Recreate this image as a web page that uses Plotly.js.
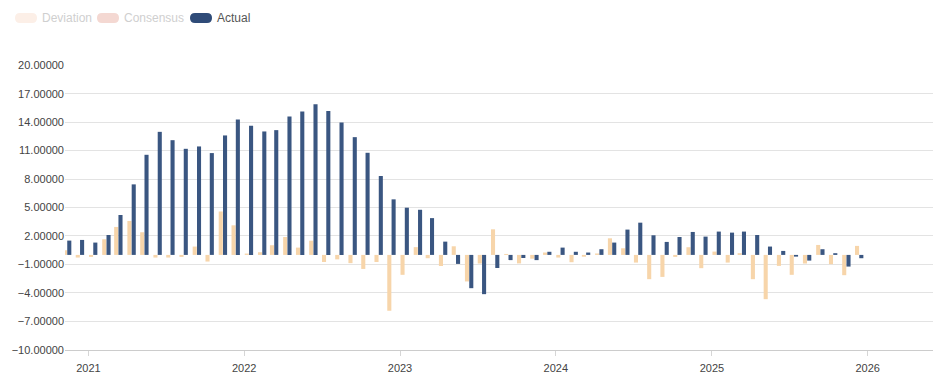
<!DOCTYPE html>
<html>
<head>
<meta charset="utf-8">
<script src="https://cdn.plot.ly/plotly-3.0.1.min.js"></script>
<style>
  html, body { margin: 0; padding: 0; background: #fff; }
  #chart { width: 940px; height: 382px; }
</style>
</head>
<body>
<div id="chart"></div>
<script>
const dates = [
  '2020-11-12','2020-12-12',
  '2021-01-12','2021-02-12','2021-03-12','2021-04-12','2021-05-12','2021-06-12',
  '2021-07-12','2021-08-12','2021-09-12','2021-10-12','2021-11-12','2021-12-12',
  '2022-01-12','2022-02-12','2022-03-12','2022-04-12','2022-05-12','2022-06-12',
  '2022-07-12','2022-08-12','2022-09-12','2022-10-12','2022-11-12','2022-12-12',
  '2023-01-12','2023-02-12','2023-03-12','2023-04-12','2023-05-12','2023-06-12',
  '2023-07-12','2023-08-12','2023-09-12','2023-10-12','2023-11-12','2023-12-12',
  '2024-01-12','2024-02-12','2024-03-12','2024-04-12','2024-05-12','2024-06-12',
  '2024-07-12','2024-08-12','2024-09-12','2024-10-12','2024-11-12','2024-12-12',
  '2025-01-12','2025-02-12','2025-03-12','2025-04-12','2025-05-12','2025-06-12',
  '2025-07-12','2025-08-12','2025-09-12','2025-10-12','2025-11-12','2025-12-12'
];

const actual = [
  1.51, 1.58,
  1.30, 2.10, 4.21, 7.44, 10.56, 12.98, 12.10, 11.19, 11.44, 10.74, 12.60, 14.28,
  13.61, 13.02, 13.16, 14.60, 15.12, 15.89, 15.19, 13.96, 12.42, 10.77, 8.32, 5.86,
  4.98, 4.76, 3.88, 1.40, -0.95, -3.51, -4.14, -1.38, -0.55, -0.33, -0.55, 0.33,
  0.77, 0.33, 0.25, 0.60, 1.30, 2.67, 3.40, 2.07, 1.37, 1.89, 2.42, 1.93,
  2.46, 2.35, 2.46, 2.10, 0.88, 0.42, -0.18, -0.60, 0.60, 0.18, -1.23, -0.35
];

const deviation = [
  0.49, -0.28,
  -0.21, 1.65, 2.95, 3.58, 2.39, -0.28, -0.28, -0.21, 0.88, -0.70, 4.58, 3.12,
  0.14, 0.28, 1.02, 1.89, 0.77, 1.50, -0.75, -0.47, -0.87, -1.48, -0.75, -5.89,
  -2.10, 0.82, -0.35, -1.17, 0.91, -2.80, -0.91, 2.70, 0.10, -0.90, -0.40, 0.25,
  -0.28, -0.77, -0.19, 0.15, 1.75, 0.70, -0.81, -2.56, -2.32, -0.21, 0.81, -1.40,
  0.35, -0.81, 0.18, -2.56, -4.67, -1.16, -2.10, -0.91, 1.05, -0.98, -2.14, 0.95
];

const legendNames = ['Deviation', 'Consensus', 'Actual'];
const yTickVals = [-10, -7, -4, -1, 2, 5, 8, 11, 14, 17, 20];

// plot area in pixels (for legend placement)
const PL = 65, PR = 933, PT = 65, PB = 350;
const px2x = p => (p - PL) / (PR - PL);
const py2y = p => (PB - p) / (PB - PT);

function pill(x0, y0, x1, y1) {
  const r = (y1 - y0) / 2;
  const X = px2x, Y = py2y;
  return 'M' + X(x0 + r) + ',' + Y(y0) +
    ' L' + X(x1 - r) + ',' + Y(y0) +
    ' Q' + X(x1) + ',' + Y(y0) + ' ' + X(x1) + ',' + Y(y0 + r) +
    ' Q' + X(x1) + ',' + Y(y1) + ' ' + X(x1 - r) + ',' + Y(y1) +
    ' L' + X(x0 + r) + ',' + Y(y1) +
    ' Q' + X(x0) + ',' + Y(y1) + ' ' + X(x0) + ',' + Y(y0 + r) +
    ' Q' + X(x0) + ',' + Y(y0) + ' ' + X(x0 + r) + ',' + Y(y0) + ' Z';
}

const legendSwatchColors = ['#fcefe7', '#f4d8d2', '#2f4b78'];
const legendTextColors = ['#cfcfcf', '#cfcfcf', '#555555'];
const legendSwatchX = [15, 97, 190];

const shapes = [];
const annotations = [];
legendNames.forEach((name, i) => {
  const sx = legendSwatchX[i];
  shapes.push({
    type: 'path', xref: 'paper', yref: 'paper',
    path: pill(sx, 13, sx + 22, 23),
    fillcolor: legendSwatchColors[i], line: { width: 0 }
  });
  annotations.push({
    xref: 'paper', yref: 'paper', x: px2x(sx + 25), y: py2y(18.5),
    xanchor: 'left', yanchor: 'middle', showarrow: false,
    text: name, font: { family: 'Liberation Sans, Arial, sans-serif', size: 12, color: legendTextColors[i] }
  });
});

const traces = [
  {
    type: 'bar', name: 'Deviation', x: dates, y: deviation,
    marker: { color: '#f7d5aa', line: { width: 0 } }, showlegend: false
  },
  {
    type: 'bar', name: 'Actual', x: dates, y: actual,
    marker: { color: '#3a5681', line: { width: 0 } }, showlegend: false
  }
];

const layout = {
  width: 940, height: 382,
  margin: { l: PL, r: 940 - PR, t: PT, b: 382 - PB },
  paper_bgcolor: '#ffffff', plot_bgcolor: '#ffffff',
  barmode: 'group', bargap: 0.28, bargroupgap: 0.05,
  showlegend: false,
  font: { family: 'Liberation Sans, Arial, sans-serif', size: 11, color: '#444' },
  xaxis: {
    type: 'date',
    range: ['2020-11-07', '2026-06-03'],
    dtick: 'M12', tick0: '2021-01-01', tickformat: '%Y',
    showgrid: false, zeroline: false,
    showline: true, linecolor: '#cccccc', linewidth: 1,
    ticks: 'outside', ticklen: 5, tickcolor: '#d6d6d6',
    ticklabelstandoff: 3,
    tickfont: { size: 11, color: '#444' }
  },
  yaxis: {
    range: [-10.03, 20.03],
    tickmode: 'array', tickvals: yTickVals, tickformat: '.5f',
    showgrid: true, gridcolor: '#e3e3e3', gridwidth: 1,
    zeroline: false, showline: false, ticks: '',
    tickfont: { size: 11, color: '#444' }
  },
  shapes: shapes,
  annotations: annotations
};

Plotly.newPlot('chart', traces, layout, { displayModeBar: false, staticPlot: true });
</script>
</body>
</html>
